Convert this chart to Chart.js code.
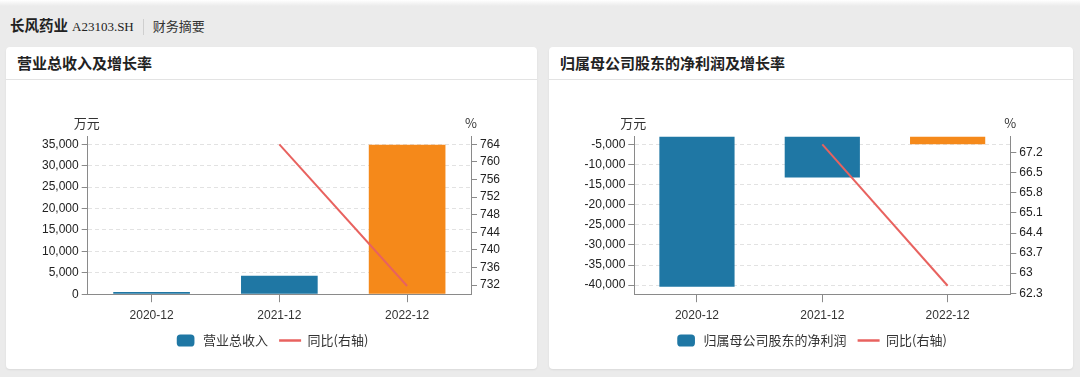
<!DOCTYPE html>
<html>
<head>
<meta charset="utf-8">
<script src="https://cdn.jsdelivr.net/npm/chart.js@4.4.0/dist/chart.umd.min.js"></script>
<style>
  html, body { margin:0; padding:0; }
  body { width:1080px; height:377px; background:#ebebeb; position:relative; overflow:hidden;
         font-family:"Noto Sans CJK SC", "Liberation Sans", sans-serif; color:#222; }
  .topstrip { position:absolute; left:0; top:0; width:1080px; height:6px;
              background:linear-gradient(#ffffff, #ebebeb); }
  .hdr { position:absolute; left:10px; top:12px; height:24px; line-height:24px; white-space:nowrap; }
  .hdr .name { font-weight:bold; font-size:14.5px; color:#222; }
  .hdr .code { font-family:"Liberation Serif", serif; font-size:13px; color:#222; margin-left:4px; }
  .hdr .sep { display:inline-block; width:1px; height:16px; background:#cfcfcf; vertical-align:middle; margin:0 9px 0 9px; }
  .hdr .sub { font-size:13px; color:#333; }
  .panel { position:absolute; top:47px; height:322px; background:#fff; border-radius:4px;
           box-shadow:0 1px 2px rgba(0,0,0,0.08); }
  .ptitle { position:absolute; left:0; top:0; right:0; height:32px; border-bottom:1px solid #e3e3e3;
            font-weight:bold; font-size:15px; line-height:32px; padding-left:11px; color:#222; }
  .cbox { position:absolute; left:0; top:33px; }
</style>
</head>
<body>
<div class="topstrip"></div>
<div class="hdr"><span class="name">长风药业</span><span class="code">A23103.SH</span><span class="sep"></span><span class="sub">财务摘要</span></div>

<div class="panel" style="left:6px; width:531px;">
  <div class="ptitle">营业总收入及增长率</div>
  <div class="cbox" style="width:531px;height:289px;"><canvas id="c1" width="531" height="289"></canvas></div>
</div>
<div class="panel" style="left:549px; width:524px;">
  <div class="ptitle">归属母公司股东的净利润及增长率</div>
  <div class="cbox" style="width:524px;height:289px;"><canvas id="c2" width="524" height="289"></canvas></div>
</div>

<script>
// ---- data ----
const categories = ["2020-12", "2021-12", "2022-12"];

const revenue = [520, 4300, 34900];             // 万元
const revenueGrowth = [null, 764, 731.8];        // %
const revenueTicksLeft = [0, 5000, 10000, 15000, 20000, 25000, 30000, 35000];
const revenueTicksRight = [732, 736, 740, 744, 748, 752, 756, 760, 764];

const profit = [-40400, -13250, -4950];          // 万元
const profitGrowth = [null, 67.49, 62.56];       // %
const profitTicksLeft = [-40000, -35000, -30000, -25000, -20000, -15000, -10000, -5000];
const profitTicksRight = [62.3, 63, 63.7, 64.4, 65.1, 65.8, 66.5, 67.2];

const BLUE = "#1f77a4", ORANGE = "#f5891a", RED = "#e8625f";
const barColors = [BLUE, BLUE, ORANGE];

const axisTitles = {
  id: "axisTitles",
  afterDraw(chart) {
    const {ctx, chartArea} = chart;
    const y = chart.scales.y, y1 = chart.scales.y1;
    ctx.save();
    ctx.font = '13px "Noto Sans CJK SC", "Liberation Sans", sans-serif';
    ctx.fillStyle = "#333";
    ctx.textAlign = "center";
    ctx.textBaseline = "middle";
    ctx.fillText("万元", y.right - 1, chartArea.top - 14);
    ctx.fillText("%", y1.left, chartArea.top - 14);
    ctx.restore();
  }
};

function fmt(v) { return Number(v).toLocaleString("en-US"); }

function makeChart(id, barLabel, bars, growth, leftTicks, rightTicks, yMin, yMax, y1Min, y1Max, leftW, rightW) {
  const tickFont = { family: '"Liberation Sans", Arial, sans-serif', size: 12 };
  new Chart(document.getElementById(id), {
    data: {
      labels: categories,
      datasets: [
        { type: "line", label: "同比(右轴)", data: growth, yAxisID: "y1", order: 0,
          borderColor: RED, backgroundColor: RED, borderWidth: 2, pointRadius: 0, tension: 0 },
        { type: "bar", label: barLabel, data: bars, yAxisID: "y", order: 1,
          backgroundColor: barColors, borderWidth: 0, barPercentage: 0.6, categoryPercentage: 1.0 }
      ]
    },
    options: {
      responsive: false,
      animation: false,
      layout: { padding: { left: 0, right: 0, top: 56.7, bottom: 12 } },
      plugins: {
        tooltip: { enabled: false },
        legend: {
          position: "bottom",
          reverse: true,
          labels: {
            usePointStyle: true, pointStyleWidth: 22, boxHeight: 10, padding: 11,
            color: "#333",
            font: { family: '"Noto Sans CJK SC", "Liberation Sans", sans-serif', size: 13 },
            generateLabels(chart) {
              const items = Chart.defaults.plugins.legend.labels.generateLabels(chart);
              items.forEach(it => {
                const ds = chart.data.datasets[it.datasetIndex];
                if (ds.type === "bar") { it.pointStyle = "rectRounded"; it.fillStyle = BLUE; it.strokeStyle = BLUE; it.lineWidth = 0; }
                else { it.pointStyle = "line"; it.strokeStyle = RED; it.lineWidth = 2.5; }
              });
              return items;
            }
          }
        }
      },
      scales: {
        x: {
          grid: { display: true, drawOnChartArea: false, offset: false, tickLength: 8, tickColor: "#8a8a8a" },
          border: { color: "#8a8a8a", width: 1 },
          ticks: { color: "#333", font: tickFont, padding: 6 },
          afterFit(s) { s.height = 28.8; }
        },
        y: {
          position: "left", min: yMin, max: yMax,
          afterBuildTicks(s) { s.ticks = leftTicks.map(v => ({ value: v })); },
          grid: { color: "#e2e2e2", tickColor: "#8a8a8a", tickLength: 6, lineWidth: 1 },
          border: { color: "#8a8a8a", width: 1, dash: [4, 3] },
          ticks: { color: "#222", font: tickFont, padding: 3, callback: v => fmt(v) },
          afterFit(s) { s.width = leftW; }
        },
        y1: {
          position: "right", min: y1Min, max: y1Max,
          afterBuildTicks(s) { s.ticks = rightTicks.map(v => ({ value: v })); },
          grid: { drawOnChartArea: false, tickColor: "#8a8a8a", tickLength: 6 },
          border: { color: "#8a8a8a", width: 1 },
          ticks: { color: "#222", font: tickFont, padding: 3, callback: v => String(v) },
          afterFit(s) { s.width = rightW; }
        }
      }
    },
    plugins: [axisTitles]
  });
}

makeChart("c1", "营业总收入", revenue, revenueGrowth, revenueTicksLeft, revenueTicksRight,
          0, 36785, 729.94, 765.74, 81.7, 66);
makeChart("c2", "归属母公司股东的净利润", profit, profitGrowth, profitTicksLeft, profitTicksRight,
          -42250, -3100, 62.265, 67.76, 85.3, 62.7);
</script>
</body>
</html>
